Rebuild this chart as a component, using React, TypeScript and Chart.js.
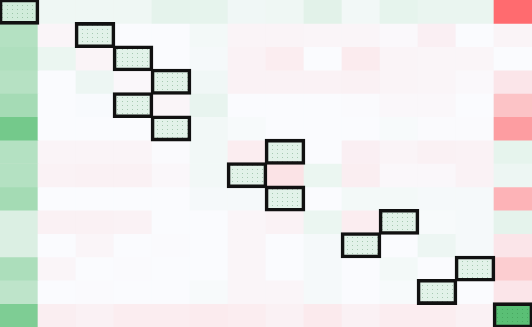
import React, { useEffect, useRef } from "react";
import { Chart, registerables } from "chart.js";

Chart.register(...registerables);

// 14 x 14 matrix: positive = green, negative = red
const columns = ["C1", "C2", "C3", "C4", "C5", "C6", "C7", "C8", "C9", "C10", "C11", "C12", "C13", "C14"];

const row0 = [0.25, 0.07, 0.07, 0.07, 0.13, 0.12, 0.06, 0.07, 0.15, 0.05, 0.12, 0.1, 0.1, -1.0];
const row1 = [0.43, -0.04, 0.15, 0.0, 0.0, 0.04, -0.05, -0.05, -0.04, -0.04, -0.02, -0.08, 0.0, -0.05];
const row2 = [0.46, 0.09, -0.05, 0.15, 0.0, 0.03, -0.06, -0.1, 0.0, -0.11, -0.05, -0.04, -0.04, 0.0];
const row3 = [0.42, 0.0, 0.08, -0.03, 0.15, 0.06, -0.06, -0.06, -0.06, -0.07, -0.05, -0.04, -0.02, -0.15];
const row4 = [0.52, 0.0, 0.01, 0.15, -0.04, 0.11, 0.0, 0.0, 0.0, -0.01, -0.03, -0.03, 0.0, -0.39];
const row5 = [0.82, 0.0, 0.0, 0.0, 0.15, 0.05, 0.02, 0.0, 0.0, 0.0, 0.02, -0.01, -0.01, -0.65];
const row6 = [0.43, -0.05, -0.05, -0.05, -0.01, 0.05, -0.1, 0.15, 0.0, -0.08, -0.05, -0.07, -0.06, 0.12];
const row7 = [0.43, -0.06, -0.07, -0.07, -0.03, 0.05, 0.15, -0.17, 0.09, -0.09, -0.03, -0.03, -0.06, 0.08];
const row8 = [0.53, 0.0, 0.0, 0.0, 0.0, 0.03, 0.03, 0.15, 0.0, 0.04, 0.04, 0.03, 0.03, -0.5];
const row9 = [0.19, -0.07, -0.07, -0.06, 0.0, 0.0, -0.04, -0.06, 0.09, -0.1, 0.15, 0.02, 0.03, 0.13];
const row10 = [0.19, 0.0, -0.04, 0.0, -0.01, 0.0, -0.04, 0.0, 0.03, 0.15, 0.0, 0.08, 0.03, -0.15];
const row11 = [0.48, -0.04, 0.0, -0.01, 0.0, 0.0, -0.04, 0.0, 0.03, 0.0, 0.04, 0.0, 0.15, -0.32];
const row12 = [0.37, 0.0, -0.01, 0.0, 0.0, 0.02, -0.04, -0.04, 0.03, 0.0, 0.02, 0.15, 0.0, -0.15];
const row13 = [0.76, -0.09, -0.07, -0.1, -0.1, -0.11, -0.1, -0.07, -0.12, -0.07, -0.1, -0.1, -0.07, 0.98];

const matrix = [row0, row1, row2, row3, row4, row5, row6, row7, row8, row9, row10, row11, row12, row13];

// highlighted (boxed, dotted) column for each row
const highlightCol = [0, 2, 3, 4, 3, 4, 7, 6, 7, 10, 9, 12, 11, 13];

const WHITE = [250, 251, 254];
const GREEN = [87, 190, 114];
const RED = [255, 107, 111];
const DOT = [30, 110, 50];

function rgbStr(c: number[]) {
  return `rgb(${c[0]},${c[1]},${c[2]})`;
}

function cellRgb(v: number) {
  const t = Math.min(1, Math.abs(v));
  const end = v >= 0 ? GREEN : RED;
  return WHITE.map((w, i) => Math.round(w + (end[i] - w) * t));
}

function makePattern(rgb: number[]) {
  const c = document.createElement("canvas");
  c.width = 5;
  c.height = 4;
  const x = c.getContext("2d")!;
  x.fillStyle = rgbStr(rgb);
  x.fillRect(0, 0, 5, 4);
  const dot = rgb.map((v, i) => Math.round(v + (DOT[i] - v) * 0.3));
  x.fillStyle = rgbStr(dot);
  x.fillRect(2, 1, 1, 1);
  return x.createPattern(c, "repeat");
}

export default function App() {
  const ref = useRef<HTMLCanvasElement | null>(null);

  useEffect(() => {
    if (!ref.current) return;

    const overlay = matrix.map((_, r) => ({
      label: `box${r}`,
      data: columns.map((_, c) => (c === highlightCol[r] ? [r, r + 1] : null)),
      backgroundColor: "rgba(0,0,0,0)",
      borderColor: "#111",
      borderWidth: 1,
      inflateAmount: 1.3,
      borderSkipped: false,
      grouped: false,
      barPercentage: 1,
      categoryPercentage: 1,
      order: 0,
    }));

    const base = matrix.map((vals, r) => ({
      label: `row${r}`,
      data: columns.map(() => [r, r + 1]),
      backgroundColor: vals.map((v, c) =>
        c === highlightCol[r] ? makePattern(cellRgb(v)) : rgbStr(cellRgb(v))
      ),
      borderWidth: 0,
      borderSkipped: false,
      grouped: false,
      barPercentage: 1,
      categoryPercentage: 1,
      order: 1,
    }));

    const chart = new Chart(ref.current, {
      type: "bar",
      data: {
        labels: columns,
        datasets: [...overlay, ...base] as any,
      },
      options: {
        animation: false,
        responsive: true,
        maintainAspectRatio: false,
        layout: { padding: 0 },
        plugins: {
          legend: { display: false },
          tooltip: { enabled: false },
        },
        scales: {
          x: { type: "category", display: false, offset: true, grid: { display: false } },
          y: { type: "linear", display: false, min: 0, max: 14, reverse: true },
        },
      },
    });

    return () => chart.destroy();
  }, []);

  return (
    <div style={{ position: "fixed", left: 0, top: 0, width: 532, height: 327, background: "#fff" }}>
      <canvas ref={ref} />
    </div>
  );
}
